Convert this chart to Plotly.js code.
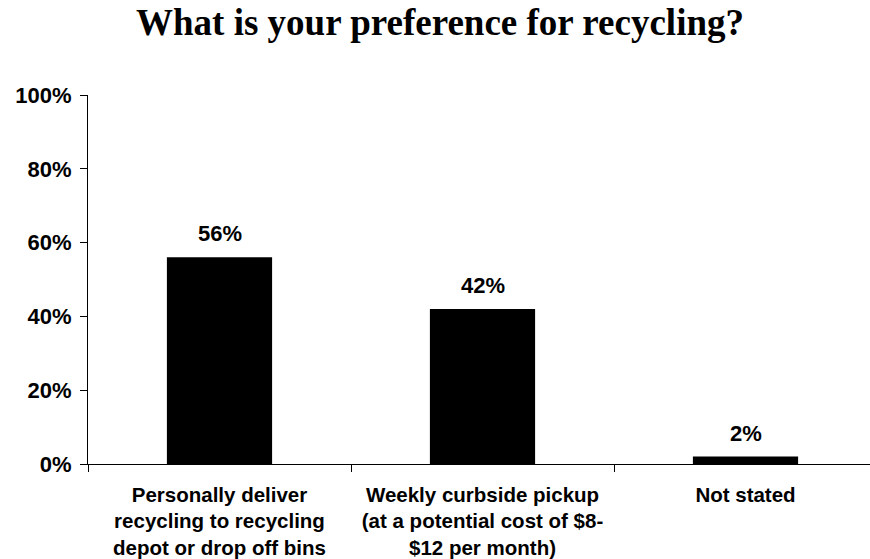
<!DOCTYPE html>
<html>
<head>
<meta charset="utf-8">
<script src="https://cdn.plot.ly/plotly-3.0.1.min.js"></script>
<style>html,body{margin:0;padding:0;overflow:hidden;background:#fff;}</style>
</head>
<body>
<div id="chart" style="width:880px;height:559px;"></div>
<script>
const categories = [
  "Personally deliver<br>recycling to recycling<br>depot or drop off bins",
  "Weekly curbside pickup<br>(at a potential cost of $8-<br>$12 per month)",
  "Not stated"
];
const values = [0.56, 0.42, 0.02];
const valueLabels = ["56%", "42%", "2%"];
const yTickVals = [0, 0.2, 0.4, 0.6, 0.8, 1.0];
const yTickText = ["0%", "20%", "40%", "60%", "80%", "100%"];

const sans = "Liberation Sans, Arial, sans-serif";

const trace = {
  type: "bar",
  x: categories,
  y: values,
  marker: {color: "#000000", line: {width: 0}},
  hoverinfo: "none"
};

const annotations = categories.map((c, i) => ({
  x: c, y: values[i], xref: "x", yref: "y",
  text: valueLabels[i], showarrow: false,
  yanchor: "bottom", xanchor: "center", yshift: 9,
  font: {family: sans, size: 22, color: "#000", weight: "bold"}
}));

const layout = {
  width: 880,
  height: 559,
  margin: {l: 88, r: 3, t: 95, b: 95},
  paper_bgcolor: "#fff",
  plot_bgcolor: "#fff",
  showlegend: false,
  bargap: 0.6,
  annotations: annotations,
  title: {
    text: "What is your preference for recycling?",
    font: {family: "Liberation Serif, Times New Roman, serif", size: 37, color: "#000", weight: "bold"},
    x: 0.5, xref: "container", xanchor: "center",
    y: 0.961, yref: "container", yanchor: "middle"
  },
  xaxis: {
    type: "category",
    showline: true, linecolor: "#000", linewidth: 1,
    ticks: "outside", tickson: "boundaries", ticklen: 7, tickcolor: "#000",
    showgrid: false, zeroline: false,
    ticklabelstandoff: 12,
    tickfont: {family: sans, size: 20.5, color: "#000", weight: "bold"},
    tickangle: 0
  },
  yaxis: {
    range: [0, 1],
    tickvals: yTickVals,
    ticktext: yTickText,
    showline: true, linecolor: "#000", linewidth: 1,
    ticks: "outside", ticklen: 7, tickcolor: "#000",
    ticklabelstandoff: 4,
    showgrid: false, zeroline: false,
    tickfont: {family: sans, size: 22, color: "#000", weight: "bold"}
  }
};

Plotly.newPlot("chart", [trace], layout, {staticPlot: true, displayModeBar: false});
</script>
</body>
</html>
